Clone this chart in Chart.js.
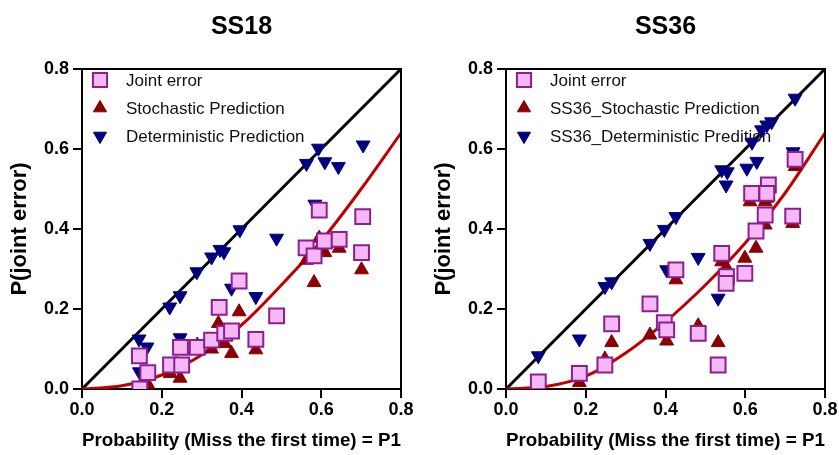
<!DOCTYPE html>
<html>
<head>
<meta charset="utf-8">
<script src="https://cdn.jsdelivr.net/npm/chart.js@4.4.1/dist/chart.umd.min.js"></script>
<style>
  html, body { margin: 0; padding: 0; background: #fff; }
  #wrap { position: relative; width: 839px; height: 455px; }
  #c18 { position: absolute; left: 0; top: 0; }
  #c36 { position: absolute; left: 420px; top: 0; }
</style>
</head>
<body>
<div id="wrap">
  <canvas id="c18" width="420" height="455"></canvas>
  <canvas id="c36" width="419" height="455"></canvas>
</div>
<script>
// --- data ---
const xTicks = [0, 0.2, 0.4, 0.6, 0.8];
const fitX = [0, 0.1, 0.2, 0.3, 0.4, 0.5, 0.6, 0.7, 0.8];
const diagX = [0, 0.8];
const diagY = [0, 0.8];

// SS18
const ss18JointX = [0.145, 0.144, 0.165, 0.222, 0.25, 0.247, 0.289, 0.325, 0.344, 0.358, 0.375, 0.394, 0.436, 0.488, 0.562, 0.582, 0.608, 0.645, 0.701, 0.704, 0.595];
const ss18JointY = [0.0, 0.083, 0.041, 0.06, 0.06, 0.104, 0.104, 0.122, 0.204, 0.139, 0.145, 0.27, 0.124, 0.183, 0.353, 0.333, 0.37, 0.374, 0.341, 0.431, 0.447];
const ss18StochX = [0.145, 0.166, 0.221, 0.246, 0.25, 0.289, 0.325, 0.342, 0.358, 0.375, 0.394, 0.436, 0.563, 0.582, 0.595, 0.609, 0.645, 0.701];
const ss18StochY = [0.005, 0.01, 0.039, 0.027, 0.1, 0.11, 0.1, 0.164, 0.114, 0.089, 0.193, 0.098, 0.322, 0.266, 0.377, 0.341, 0.352, 0.298];
const ss18DetX = [0.143, 0.163, 0.144, 0.22, 0.246, 0.246, 0.288, 0.325, 0.346, 0.356, 0.375, 0.396, 0.436, 0.488, 0.563, 0.593, 0.609, 0.643, 0.705, 0.584];
const ss18DetY = [0.125, 0.105, 0.043, 0.205, 0.233, 0.128, 0.293, 0.33, 0.349, 0.343, 0.252, 0.398, 0.231, 0.377, 0.564, 0.602, 0.568, 0.556, 0.61, 0.462];
const ss18Fit = [0, 0.008, 0.035, 0.085, 0.16, 0.26, 0.37, 0.5, 0.64];

// SS36
const ss36JointX = [0.081, 0.184, 0.248, 0.265, 0.361, 0.397, 0.403, 0.426, 0.482, 0.532, 0.541, 0.553, 0.552, 0.599, 0.627, 0.65, 0.719, 0.725, 0.658, 0.654, 0.616];
const ss36JointY = [0.018, 0.039, 0.06, 0.163, 0.213, 0.166, 0.148, 0.298, 0.139, 0.06, 0.339, 0.281, 0.264, 0.289, 0.395, 0.435, 0.432, 0.574, 0.51, 0.489, 0.489];
const ss36StochX = [0.081, 0.184, 0.248, 0.265, 0.361, 0.403, 0.426, 0.482, 0.532, 0.541, 0.555, 0.599, 0.627, 0.65, 0.719, 0.612, 0.65, 0.654, 0.725];
const ss36StochY = [0.0, 0.016, 0.075, 0.116, 0.135, 0.12, 0.273, 0.158, 0.116, 0.318, 0.3, 0.327, 0.352, 0.41, 0.414, 0.468, 0.468, 0.477, 0.556];
const ss36DetX = [0.081, 0.184, 0.248, 0.265, 0.361, 0.397, 0.403, 0.426, 0.482, 0.532, 0.541, 0.555, 0.552, 0.604, 0.629, 0.641, 0.654, 0.666, 0.725, 0.617, 0.72];
const ss36DetY = [0.083, 0.125, 0.256, 0.268, 0.364, 0.399, 0.298, 0.431, 0.329, 0.227, 0.548, 0.543, 0.51, 0.552, 0.569, 0.648, 0.66, 0.668, 0.727, 0.617, 0.593];
const ss36Fit = [0, 0.006, 0.032, 0.09, 0.168, 0.26, 0.365, 0.49, 0.64];

const FONT = '"Liberation Sans", Arial, Helvetica, sans-serif';
const pts = (xs, ys) => xs.map((x, i) => ({ x: x, y: ys[i] }));

// panel title + in-plot legend (under the marks), frame on top
const panelDecor = {
  id: 'panelDecor',
  beforeDatasetsDraw(chart, args, opts) {
    const ctx = chart.ctx;
    const a = chart.chartArea;
    ctx.save();
    ctx.fillStyle = '#000';
    ctx.font = 'bold 25px ' + FONT;
    ctx.textAlign = 'center';
    ctx.textBaseline = 'middle';
    ctx.fillText(opts.title, (a.left + a.right) / 2, 27);

    ctx.font = '17px ' + FONT;
    ctx.textAlign = 'left';
    let row = 0;
    chart.data.datasets.forEach((ds) => {
      if (!ds.label) return;
      const y = a.top + 11 + row * 28;
      ctx.fillStyle = ds.backgroundColor;
      ctx.strokeStyle = ds.borderColor;
      ctx.lineWidth = ds.borderWidth;
      Chart.helpers.drawPoint(ctx, {
        pointStyle: ds.pointStyle,
        rotation: ds.pointRotation || 0,
        radius: ds.pointRadius * 0.95,
        borderWidth: ds.borderWidth
      }, a.left + 18, y);
      ctx.fillStyle = '#111';
      ctx.fillText(ds.label, a.left + 44, y + 1);
      row++;
    });
    ctx.restore();
  },
  afterDraw(chart) {
    const ctx = chart.ctx;
    const a = chart.chartArea;
    ctx.save();
    ctx.strokeStyle = '#000';
    ctx.lineWidth = 2;
    ctx.beginPath();
    ctx.moveTo(a.left, a.top);
    ctx.lineTo(a.right, a.top);
    ctx.lineTo(a.right, a.bottom);
    ctx.stroke();
    ctx.restore();
  }
};

function makeChart(id, title, names, joint, stoch, det, fit, yTitlePad, padRight) {
  return new Chart(document.getElementById(id), {
    type: 'scatter',
    data: {
      datasets: [
        {
          label: names[0],
          data: joint,
          pointStyle: 'rect',
          pointRadius: 10.5,
          backgroundColor: '#F5B8F5',
          borderColor: '#8B1F8F',
          borderWidth: 2
        },
        {
          label: names[1],
          data: stoch,
          pointStyle: 'triangle',
          pointRadius: 8,
          backgroundColor: '#8B0000',
          borderColor: '#8B0000',
          borderWidth: 1
        },
        {
          label: names[2],
          data: det,
          pointStyle: 'triangle',
          pointRotation: 180,
          pointRadius: 8,
          backgroundColor: '#00007F',
          borderColor: '#00007F',
          borderWidth: 1
        },
        {
          data: pts(fitX, fit),
          showLine: true,
          pointRadius: 0,
          borderColor: '#C00000',
          borderWidth: 3,
          cubicInterpolationMode: 'monotone'
        },
        {
          data: pts(diagX, diagY),
          showLine: true,
          pointRadius: 0,
          borderColor: '#000',
          borderWidth: 3
        }
      ]
    },
    options: {
      responsive: false,
      animation: false,
      layout: { padding: { top: 69, right: padRight, bottom: 0, left: 0 } },
      plugins: {
        legend: { display: false },
        tooltip: { enabled: false },
        panelDecor: { title: title }
      },
      scales: {
        x: {
          type: 'linear',
          min: 0,
          max: 0.8,
          afterBuildTicks: (s) => { s.ticks = xTicks.map(v => ({ value: v })); },
          afterFit: (s) => { s.height = 66; },
          ticks: {
            color: '#000',
            font: { family: FONT, size: 18, weight: 'bold' },
            padding: 1,
            callback: (v) => Number(v).toFixed(1)
          },
          grid: { display: true, drawOnChartArea: false, drawTicks: true, tickLength: 9, color: '#000', lineWidth: 2 },
          border: { display: true, color: '#000', width: 2 },
          title: {
            display: true,
            text: 'Probability (Miss the first time) = P1',
            color: '#000',
            font: { family: FONT, size: 19, weight: 'bold' },
            padding: { top: 0, bottom: 3 }
          }
        },
        y: {
          type: 'linear',
          min: 0,
          max: 0.8,
          afterBuildTicks: (s) => { s.ticks = xTicks.map(v => ({ value: v })); },
          afterFit: (s) => { s.width = 82 + (yTitlePad - 7); },
          ticks: {
            color: '#000',
            font: { family: FONT, size: 18, weight: 'bold' },
            padding: 4,
            callback: (v) => Number(v).toFixed(1)
          },
          grid: { display: true, drawOnChartArea: false, drawTicks: true, tickLength: 9, color: '#000', lineWidth: 2 },
          border: { display: true, color: '#000', width: 2 },
          title: {
            display: true,
            text: 'P(joint error)',
            color: '#000',
            font: { family: FONT, size: 22, weight: 'bold' },
            padding: { top: yTitlePad, bottom: 0 }
          }
        }
      }
    },
    plugins: [panelDecor]
  });
}

makeChart('c18', 'SS18',
  ['Joint error', 'Stochastic Prediction', 'Deterministic Prediction'],
  pts(ss18JointX, ss18JointY), pts(ss18StochX, ss18StochY), pts(ss18DetX, ss18DetY),
  ss18Fit, 7, 19);

makeChart('c36', 'SS36',
  ['Joint error', 'SS36_Stochastic Prediction', 'SS36_Deterministic Predition'],
  pts(ss36JointX, ss36JointY), pts(ss36StochX, ss36StochY), pts(ss36DetX, ss36DetY),
  ss36Fit, 11, 14);
</script>
</body>
</html>
